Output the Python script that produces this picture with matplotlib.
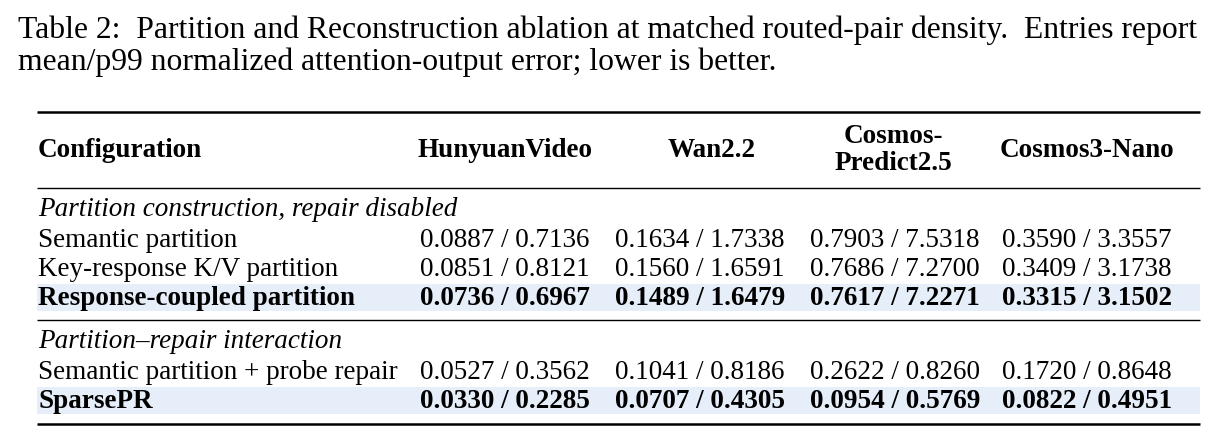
import matplotlib
matplotlib.use("Agg")
import matplotlib.pyplot as plt
from matplotlib.patches import Rectangle

W, H = 1219, 444

caption = [
    "Table 2:  Partition and Reconstruction ablation at matched routed-pair density.  Entries report",
    "mean/p99 normalized attention-output error; lower is better.",
]
headers = ["HunyuanVideo", "Wan2.2", "Cosmos-\nPredict2.5", "Cosmos3-Nano"]
group1 = "Partition construction, repair disabled"
group2 = "Partition\u2013repair interaction"
rows1 = ["Semantic partition", "Key-response K/V partition", "Response-coupled partition"]
vals1 = [
    ["0.0887 / 0.7136", "0.1634 / 1.7338", "0.7903 / 7.5318", "0.3590 / 3.3557"],
    ["0.0851 / 0.8121", "0.1560 / 1.6591", "0.7686 / 7.2700", "0.3409 / 3.1738"],
    ["0.0736 / 0.6967", "0.1489 / 1.6479", "0.7617 / 7.2271", "0.3315 / 3.1502"],
]
rows2 = ["Semantic partition + probe repair", "SparsePR"]
vals2 = [
    ["0.0527 / 0.3562", "0.1041 / 0.8186", "0.2622 / 0.8260", "0.1720 / 0.8648"],
    ["0.0330 / 0.2285", "0.0707 / 0.4305", "0.0954 / 0.5769", "0.0822 / 0.4951"],
]

plt.rcParams["font.family"] = ["Liberation Serif", "DejaVu Serif"]
fig = plt.figure(figsize=(W / 100, H / 100), dpi=100)
ax = fig.add_axes([0, 0, 1, 1])
ax.set_xlim(0, W)
ax.set_ylim(H, 0)
ax.axis("off")

FS = 19.5
CAP = 22.8
col_x = [505, 700, 895, 1087]
head_x = [505, 712, 893, 1087]
left, right = 37, 1200

def rule(y, lw):
    ax.plot([left, right], [y, y], color="black", lw=lw, solid_capstyle="butt")

def band(y):
    ax.add_patch(Rectangle((left, y - 14), right - left, 27, color="#E6EEFA", lw=0, zorder=0))

ax.text(18, 30, caption[0], fontsize=CAP, va="center")
ax.text(18, 62, caption[1], fontsize=CAP, va="center")

rule(112, 1.8)
ax.text(38, 150, "Configuration", fontsize=FS, weight="bold", va="center")
for x, h in zip(head_x, headers):
    ax.text(x, 150, h, fontsize=FS, weight="bold", va="center", ha="center", linespacing=1.1)
rule(188, 1.0)

ax.text(38, 209, group1, fontsize=FS, style="italic", va="center")
for i, (name, vals) in enumerate(zip(rows1, vals1)):
    y = 240 + 29 * i
    bold = i == len(rows1) - 1
    if bold:
        band(y)
    ax.text(38, y, name, fontsize=FS, va="center", weight="bold" if bold else "normal")
    for x, v in zip(col_x, vals):
        ax.text(x, y, v, fontsize=FS, va="center", ha="center", weight="bold" if bold else "normal")
rule(320, 1.0)

ax.text(38, 341, group2, fontsize=FS, style="italic", va="center")
for i, (name, vals) in enumerate(zip(rows2, vals2)):
    y = 372 + 29 * i
    bold = i == len(rows2) - 1
    if bold:
        band(y)
    ax.text(38, y, name, fontsize=FS, va="center", weight="bold" if bold else "normal")
    for x, v in zip(col_x, vals):
        ax.text(x, y, v, fontsize=FS, va="center", ha="center", weight="bold" if bold else "normal")
rule(424, 1.8)

fig.savefig("out.png", dpi=100)
